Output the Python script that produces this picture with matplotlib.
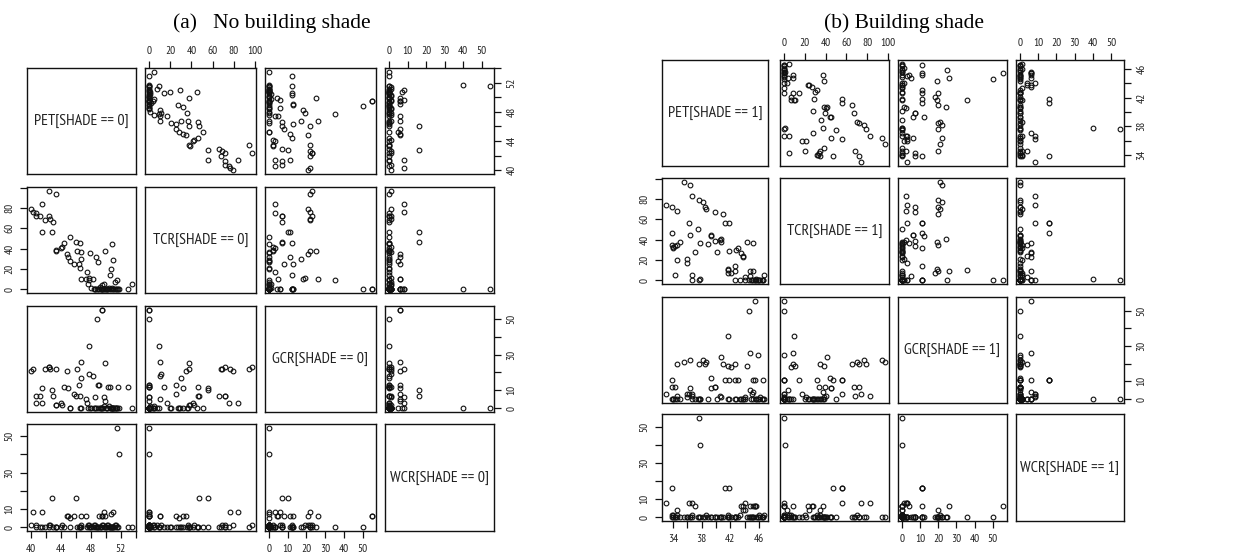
import matplotlib
matplotlib.use('Agg')
import matplotlib.pyplot as plt
from matplotlib import font_manager as fm

# ---------------- data: (a) no building shade (SHADE == 0) ----------------
PET0 = [40.0, 40.3, 40.6, 40.7, 41.2, 41.4, 41.4, 42.4, 41.9, 42.4, 42.6, 42.8, 42.9, 43.4, 43.3, 43.4,
        44.0, 44.2, 44.4, 44.8, 45.2, 45.0, 45.2, 45.7, 46.0, 46.1, 46.4, 46.5, 46.6, 46.7, 46.7, 46.7,
        47.5, 47.4, 47.6, 47.9, 47.8, 48.3, 47.7, 48.6, 48.7, 48.9, 49.5, 49.8, 49.9, 50.6, 50.7, 50.8,
        51.0, 51.2, 51.5, 51.6, 53.0, 53.5, 48.5, 48.8, 49.0, 49.1, 49.3, 49.5, 49.5, 49.7, 49.9, 50.1,
        50.3, 50.5, 50.7, 50.9, 51.0, 51.2, 51.5, 51.7, 49.6, 49.4, 50.0, 48.0, 48.4, 50.2, 50.4, 51.4,
        49.2, 50.8]
TCR0 = [79, 76, 75, 72, 72, 84, 56, 97, 68, 72, 69, 56, 66, 94, 39, 38,
        41, 42, 46, 35, 51, 32, 28, 25, 47, 38, 25, 21, 46, 37, 30, 10,
        17, 10, 5, 36, 11, 10, 9, 0, 32, 27, 4, 5, 38, 14, 20, 45,
        29, 7, 9, 0, 0, 5, 0, 0, 0, 0, 0, 0, 0, 0, 0, 0,
        0, 0, 0, 0, 0, 0, 0, 0, 0, 0, 0, 1, 0, 0, 1, 0,
        2, 1]
GCR0 = [21, 22, 3, 7, 7, 3, 11, 23, 22, 23, 22, 10, 7, 22, 2, 2,
        3, 2, 12, 21, 0, 11, 0, 8, 7, 22, 13, 0, 7, 0, 17, 26,
        3, 5, 0, 0, 19, 18, 35, 0, 0, 0, 0, 1, 25, 12, 0, 0,
        0, 0, 0, 12, 12, 0, 6, 50, 13, 13, 0, 55, 55, 6, 4, 0,
        12, 0, 0, 0, 0, 0, 0, 0, 0, 0, 0, 0, 0, 0, 1, 0,
        0, 0]
WCR0 = [1, 8, 0, 1, 0, 8, 0, 1, 0, 0, 1, 16, 0, 0, 0, 0,
        0, 1, 0, 6, 0, 6, 5, 6, 16, 0, 0, 0, 0, 1, 0, 6,
        0, 6, 1, 0, 1, 0, 0, 0, 0, 0, 1, 0, 0, 0, 0, 0,
        0, 1, 0, 0, 0, 0, 1, 0, 0, 6, 0, 6, 6, 8, 6, 0,
        1, 0, 7, 0, 8, 0, 54.5, 40, 1, 0, 0, 0, 1, 1, 0, 1,
        0, 0]

# ---------------- data: (b) building shade (SHADE == 1) ----------------
PET1 = [33.0, 33.9, 34.5, 33.8, 34.0, 34.2, 34.6, 34.9, 34.5, 34.2, 35.5, 36.4, 35.9, 35.9, 36.2, 36.3,
        36.7, 36.7, 36.7, 37.0, 37.5, 37.6, 37.8, 38.2, 38.4, 38.6, 38.9, 37.6, 37.8, 39.3, 39.3, 39.9,
        39.9, 40.1, 40.7, 40.7, 40.6, 40.9, 41.3, 41.8, 41.8, 41.6, 41.7, 41.6, 42.1, 42.7, 42.8, 43.0,
        42.7, 42.7, 43.3, 43.5, 43.8, 43.8, 44.0, 44.3, 44.7, 44.7, 45.2, 45.2, 44.6, 45.5, 45.9, 44.1,
        45.2, 45.4, 45.6, 45.8, 46.0, 46.2, 46.4, 46.5, 46.6, 46.7, 45.0, 44.9, 45.6, 34.0, 33.9]
TCR1 = [74, 72, 68, 47, 32, 34, 35, 38, 20, 5, 97, 94, 21, 17, 56, 45,
        83, 5, 0, 28, 50, 79, 37, 77, 72, 70, 36, 0, 1, 45, 44, 39,
        67, 28, 38, 41, 40, 65, 56, 56, 29, 11, 10, 7, 7, 0, 30, 32,
        14, 9, 0, 27, 23, 24, 3, 38, 9, 4, 37, 9, 0, 0, 0, 0,
        0, 0, 0, 0, 0, 0, 0, 0, 0, 5, 0, 0, 1, 33, 35]
GCR1 = [3, 7, 2, 11, 0, 7, 20, 0, 0, 0, 21, 22, 1, 3, 3, 6,
        2, 0, 3, 0, 0, 20, 0, 22, 20, 21, 0, 0, 0, 6, 12, 7,
        7, 0, 1, 24, 2, 20, 11, 11, 0, 19, 36, 0, 18, 0, 0, 11,
        11, 20, 0, 0, 0, 0, 0, 19, 26, 5, 4, 0, 50, 55.6, 25, 1,
        11, 11, 0, 0, 0, 1, 0, 11, 0, 0, 3, 0, 0, 0, 0]
WCR1 = [8, 0, 0, 16, 1, 0, 4, 0, 1, 0, 0, 0, 0, 0, 8, 0,
        8, 1, 0, 6, 0, 0, 0, 0, 0, 1, 0, 55, 40, 0, 0, 0,
        0, 0, 0, 0, 0, 0, 16, 16, 0, 0, 0, 1, 0, 0, 0, 0,
        0, 0, 1, 6, 6, 4, 4, 0, 6, 0, 6, 0, 0, 6, 0, 8,
        0, 6, 6, 0, 1, 0, 0, 0, 0, 1, 0, 0, 0, 0, 1]

VARS = ['PET', 'TCR', 'GCR', 'WCR']
GROUPS = [
    dict(data=[PET0, TCR0, GCR0, WCR0], shade=0, title='(a)   No building shade'),
    dict(data=[PET1, TCR1, GCR1, WCR1], shade=1, title='(b) Building shade'),
]

# ---------------- layout (pixels) ----------------
W, H = 1259, 559
LAYOUT = [
    dict(cols=[(27, 136), (145, 256), (265, 376), (385, 494)],
         rows=[(68, 174), (187, 293), (306, 412), (424, 531)],
         title_xy=(272, 28)),
    dict(cols=[(662, 768), (780, 889), (898, 1007), (1016, 1124)],
         rows=[(60, 166), (178, 284), (297, 403), (414, 521)],
         title_xy=(904, 28)),
]

names = {f.name for f in fm.fontManager.ttflist}
NARROW_CANDS = ['Liberation Sans Narrow', 'Arimo Narrow', 'PT Sans Narrow', 'Archivo Narrow',
                'Roboto Condensed', 'Asap Condensed']
SANS = [n for n in NARROW_CANDS if n in names][:1] + ['Liberation Sans', 'DejaVu Sans']
TICK_FS = 8.2
DIAG_FS = 11.5


def lims(v):
    lo, hi = min(v), max(v)
    d = hi - lo
    return lo - 0.04 * d, hi + 0.04 * d


def tick_spec(var, vals, vertical):
    lo, hi = lims(vals)
    if var == 'PET':
        ticks = [t for t in range(30, 60, 2) if lo <= t <= hi]
        labels = [str(t) if t % 4 == ticks[0] % 4 else '' for t in ticks]
    elif var == 'TCR':
        ticks = [t for t in range(0, 120, 20) if lo <= t <= hi]
        labels = [str(t) if (not vertical or t < 100) else '' for t in ticks]
    else:
        ticks = [t for t in range(0, 60, 10) if lo <= t <= hi]
        labels = [str(t) if (not vertical or t in (0, 10, 30, 50)) else '' for t in ticks]
    return ticks, labels


fig = plt.figure(figsize=(W / 100, H / 100), dpi=100)

for g, lay in zip(GROUPS, LAYOUT):
    data = g['data']
    for i in range(4):
        for j in range(4):
            x0, x1 = lay['cols'][j]
            y0, y1 = lay['rows'][i]
            ax = fig.add_axes([x0 / W, 1 - y1 / H, (x1 - x0) / W, (y1 - y0) / H])
            ax.set_xlim(lims(data[j]))
            ax.set_ylim(lims(data[i]))
            for sp in ax.spines.values():
                sp.set_linewidth(1.0)
                sp.set_color('#111111')
            ax.set_xticks([])
            ax.set_yticks([])
            if i == j:
                ax.text(0.5, 0.5, f'{VARS[i]}[SHADE == {g["shade"]}]', transform=ax.transAxes,
                        ha='center', va='center', fontsize=DIAG_FS, family=SANS, color='#222222')
                continue
            ax.plot(data[j], data[i], 'o', ls='none', mfc='none', mec='#111111', ms=3.4, mew=0.8)
            ax.tick_params(length=5, width=0.9, color='#111111', labelsize=TICK_FS, pad=4,
                           labelcolor='#222222')
            if (i == 0 and j % 2 == 1) or (i == 3 and j % 2 == 0):
                t, l = tick_spec(VARS[j], data[j], vertical=False)
                ax.set_xticks(t, l)
                ax.tick_params(axis='x', top=(i == 0), bottom=(i == 3),
                               labeltop=(i == 0), labelbottom=(i == 3))
                for lab in ax.get_xticklabels():
                    lab.set_family(SANS)
            if (j == 3 and i % 2 == 0) or (j == 0 and i % 2 == 1):
                t, l = tick_spec(VARS[i], data[i], vertical=True)
                ax.set_yticks(t, l)
                ax.tick_params(axis='y', left=(j == 0), right=(j == 3),
                               labelleft=(j == 0), labelright=(j == 3), labelrotation=90)
                for lab in ax.get_yticklabels():
                    lab.set_family(SANS)
                    lab.set_va('center')
    tx, ty = lay['title_xy']
    fig.text(tx / W, 1 - ty / H, g['title'], ha='center', va='baseline',
             family=['Liberation Serif', 'DejaVu Serif'], fontsize=15.5)

fig.savefig('out.png', dpi=100)
